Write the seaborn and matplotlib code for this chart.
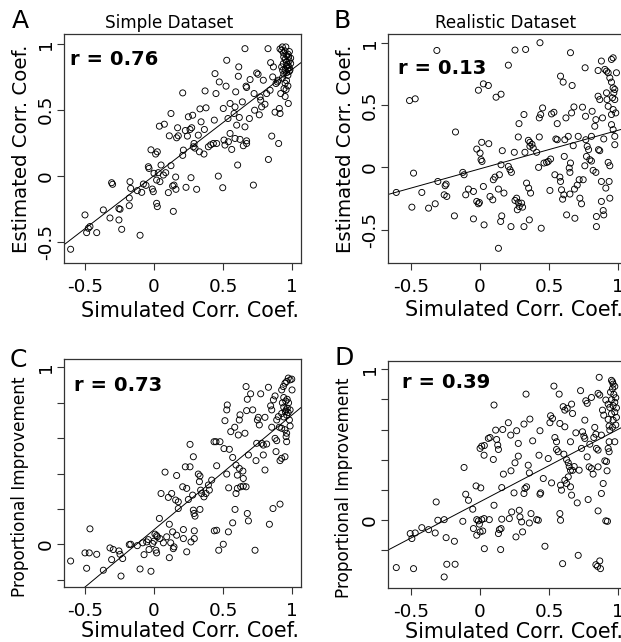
import matplotlib
matplotlib.use("Agg")
import matplotlib.pyplot as plt
import numpy as np
import pandas as pd
import seaborn as sns

# (simulated, estimated) pairs
simple_est = [
    (-0.604, -0.557), (-0.50, -0.297), (-0.488, -0.431), (-0.476, -0.398), (-0.464, -0.385),
    (-0.415, -0.431), (-0.367, -0.259), (-0.319, -0.32), (-0.307, -0.053), (-0.30, -0.065),
    (-0.254, -0.249), (-0.246, -0.254), (-0.254, -0.335), (-0.234, -0.406), (-0.179, -0.227),
    (-0.179, -0.169), (-0.174, -0.045), (-0.169, -0.096), (-0.121, -0.113), (-0.101, -0.451),
    (-0.089, -0.126), (-0.077, -0.063), (-0.058, -0.073), (-0.022, 0.196), (-0.012, -0.101),
    (-0.005, -0.121), (0.0, 0.018), (-0.041, 0.068), (-0.036, 0.055), (0.012, 0.164),
    (0.024, 0.181), (0.019, -0.209), (0.024, -0.234), (0.019, -0.033), (0.031, 0.023),
    (0.043, -0.045), (0.051, 0.081), (0.039, 0.375), (0.075, 0.39), (0.068, 0.005),
    (0.085, 0.023), (0.104, -0.128), (0.111, 0.302), (0.123, 0.471), (0.123, 0.076),
    (0.135, -0.078), (0.145, -0.071), (0.14, -0.27), (0.157, -0.01), (0.159, -0.103),
    (0.164, 0.287), (0.171, 0.363), (0.176, 0.302), (0.208, 0.627), (0.213, 0.194),
    (0.208, 0.154), (0.227, 0.342), (0.232, -0.088), (0.242, 0.30), (0.249, 0.446),
    (0.261, 0.35), (0.268, -0.015), (0.273, 0.363), (0.28, 0.458), (0.285, 0.219),
    (0.29, 0.244), (0.297, 0.209), (0.309, -0.103), (0.321, 0.307), (0.329, 0.181),
    (0.333, 0.506), (0.341, 0.408), (0.365, 0.35), (0.362, 0.164), (0.377, 0.514),
    (0.37, 0.642), (0.394, 0.219), (0.411, 0.234), (0.43, 0.244), (0.437, 0.421),
    (0.442, 0.773), (0.449, 0.622), (0.454, 0.244), (0.466, -0.003), (0.473, 0.71),
    (0.498, -0.091), (0.502, 0.509), (0.507, 0.27), (0.514, 0.232), (0.522, 0.678),
    (0.527, 0.874), (0.536, 0.433), (0.539, 0.257), (0.551, 0.32), (0.551, 0.547),
    (0.563, 0.199), (0.58, 0.471), (0.587, 0.521), (0.587, 0.282), (0.592, 0.635),
    (0.599, 0.383), (0.606, 0.081), (0.611, 0.753), (0.614, 0.824), (0.618, 0.441),
    (0.623, 0.275), (0.64, 0.559), (0.647, 0.227), (0.659, 0.37), (0.659, 0.962),
    (0.667, 0.678), (0.671, 0.668), (0.671, 0.264), (0.671, 0.244), (0.691, 0.433),
    (0.696, 0.728), (0.72, -0.071), (0.725, 0.622), (0.729, 0.496), (0.744, 0.778),
    (0.754, 0.768), (0.763, 0.461), (0.768, 0.597), (0.773, 0.572), (0.78, 0.521),
    (0.792, 0.723), (0.804, 0.541), (0.816, 0.622), (0.829, 0.123), (0.826, 0.962),
    (0.841, 0.647), (0.845, 0.856), (0.853, 0.30), (0.865, 0.824), (0.86, 0.748),
    (0.877, 0.481), (0.884, 0.698), (0.894, 0.71), (0.901, 0.723), (0.903, 0.244),
    (0.908, 0.509), (0.913, 0.471), (0.918, 0.622), (0.925, 0.824), (0.932, 0.798),
    (0.937, 0.849), (0.913, 0.96), (0.925, 0.95), (0.937, 0.93), (0.949, 0.945),
    (0.961, 0.91), (0.971, 0.92), (0.981, 0.94), (0.93, 0.975), (0.955, 0.975),
    (0.95, 0.88), (0.96, 0.86), (0.97, 0.84), (0.98, 0.82), (0.95, 0.80),
    (0.96, 0.78), (0.97, 0.81), (0.94, 0.77), (0.98, 0.79), (0.96, 0.72),
    (0.95, 0.70), (0.97, 0.68), (0.93, 0.74), (0.99, 0.85), (0.98, 0.87),
    (0.94, 0.90), (0.95, 0.60), (0.97, 0.76), (0.96, 0.83), (0.985, 0.80),
    (0.975, 0.90), (0.942, 0.66), (0.957, 0.652), (0.973, 0.547), (0.99, 0.89),
]

# panel B
real_est = [
    (-0.607, -0.201), (-0.511, 0.536), (-0.47, 0.55), (-0.494, -0.319), (-0.482, -0.046),
    (-0.422, -0.201), (-0.373, -0.327), (-0.325, -0.292), (-0.313, 0.938), (-0.306, -0.113),
    (-0.26, -0.22), (-0.241, -0.233), (-0.253, -0.147), (-0.246, -0.134), (-0.186, -0.389),
    (-0.178, 0.284), (-0.125, -0.04), (-0.116, -0.059), (-0.104, -0.22), (-0.084, -0.174),
    (-0.048, -0.193), (-0.048, -0.413), (-0.024, 0.147), (-0.024, -0.273), (-0.012, -0.292),
    (-0.005, -0.282), (-0.012, 0.619), (0.0, 0.115), (0.007, 0.062), (0.014, 0.048),
    (0.012, 0.201), (0.024, 0.67), (0.06, 0.657), (0.024, -0.153), (0.029, -0.461),
    (0.063, 0.19), (0.072, -0.233), (0.092, -0.26), (0.096, -0.099), (0.108, -0.078),
    (0.116, 0.563), (0.152, 0.587), (0.133, -0.174), (0.133, -0.649), (0.14, -0.059),
    (0.149, -0.434), (0.157, -0.389), (0.152, 0.021), (0.161, 0.134), (0.173, -0.206),
    (0.205, 0.82), (0.205, 0.008), (0.217, -0.019), (0.227, -0.04), (0.224, -0.475),
    (0.248, 0.121), (0.253, 0.941), (0.253, -0.265), (0.265, -0.247), (0.277, -0.282),
    (0.284, -0.314), (0.27, -0.34), (0.277, 0.244), (0.282, 0.351), (0.301, -0.287),
    (0.308, -0.319), (0.318, 0.424), (0.325, 0.121), (0.33, 0.946), (0.318, -0.475),
    (0.337, -0.126), (0.352, -0.166), (0.366, -0.206), (0.35, 0.217), (0.361, 0.201),
    (0.376, 0.185), (0.385, 0.155), (0.361, 0.169), (0.357, -0.421), (0.41, 0.121),
    (0.424, 0.0), (0.429, 0.244), (0.429, 0.397), (0.439, 0.424), (0.453, 0.477),
    (0.434, 1.0), (0.443, -0.488), (0.463, 0.035), (0.482, 0.04), (0.494, 0.048),
    (0.511, 0.067), (0.506, -0.185), (0.518, 0.429), (0.535, 0.442), (0.542, -0.059),
    (0.549, 0.228), (0.559, 0.222), (0.559, 0.351), (0.578, -0.078), (0.583, -0.113),
    (0.59, -0.18), (0.598, -0.255), (0.607, -0.22), (0.583, 0.732), (0.602, 0.684),
    (0.61, 0.088), (0.614, 0.222), (0.622, 0.397), (0.627, -0.381), (0.639, 0.249),
    (0.646, -0.005), (0.651, -0.04), (0.655, 0.035), (0.651, -0.214), (0.655, 0.92),
    (0.663, 0.437), (0.68, 0.485), (0.667, 0.657), (0.675, 0.174), (0.684, -0.174),
    (0.704, -0.142), (0.718, -0.099), (0.687, -0.408), (0.711, 0.249), (0.723, -0.247),
    (0.735, -0.292), (0.742, 0.483), (0.747, -0.099), (0.761, 0.799), (0.764, 0.41),
    (0.766, 0.222), (0.776, 0.169), (0.786, 0.142), (0.771, 0.088), (0.759, 0.013),
    (0.795, 0.062), (0.807, 0.051), (0.807, 0.249), (0.812, 0.45), (0.819, -0.024),
    (0.839, -0.04), (0.831, 0.33), (0.839, 0.383), (0.843, -0.394), (0.843, -0.475),
    (0.858, 0.142), (0.867, 0.134), (0.855, 0.777), (0.855, 0.571), (0.867, 0.544),
    (0.879, 0.853), (0.879, -0.113), (0.879, -0.273), (0.892, -0.346), (0.896, -0.381),
    (0.887, 0.397), (0.896, 0.228), (0.904, 0.786), (0.916, 0.772), (0.928, 0.759),
    (0.911, -0.166), (0.916, 0.598), (0.92, 0.544), (0.928, 0.49), (0.928, 0.04),
    (0.94, 0.013), (0.935, -0.113), (0.94, -0.247), (0.952, 0.866), (0.964, 0.879),
    (0.94, 0.718), (0.952, 0.684), (0.964, 0.638), (0.976, 0.625), (0.952, 0.424),
    (0.964, 0.464), (0.952, 0.343), (0.964, 0.303), (0.976, 0.249), (0.976, 0.182),
    (0.959, 0.558), (0.976, 0.544), (0.969, 0.598), (0.983, 0.437), (0.988, 0.759),
]

# panel C
simple_imp = [
    (-0.604, -0.095), (-0.50, -0.049), (-0.469, -0.049), (-0.488, -0.136), (-0.464, 0.087),
    (-0.415, -0.057), (-0.367, -0.147), (-0.319, -0.021), (-0.307, -0.087), (-0.295, -0.03),
    (-0.254, -0.038), (-0.246, -0.057), (-0.227, -0.081), (-0.239, -0.18), (-0.179, -0.002),
    (-0.169, 0.0), (-0.121, -0.008), (-0.101, -0.14), (-0.082, 0.008), (-0.072, -0.059),
    (-0.053, 0.013), (-0.041, 0.026), (-0.036, -0.03), (-0.022, -0.153), (-0.01, 0.004),
    (0.0, 0.017), (0.007, 0.057), (0.019, 0.049), (0.024, 0.042), (0.014, -0.034),
    (0.019, -0.049), (0.039, 0.146), (0.043, 0.032), (0.051, 0.287), (0.068, 0.008),
    (0.08, 0.408), (0.092, 0.042), (0.104, 0.265), (0.111, 0.113), (0.111, -0.076),
    (0.121, 0.008), (0.128, 0.287), (0.135, 0.07), (0.14, -0.025), (0.145, -0.015),
    (0.157, 0.25), (0.164, 0.051), (0.164, 0.389), (0.176, 0.24), (0.176, 0.202),
    (0.208, 0.325), (0.213, 0.083), (0.213, 0.032), (0.227, 0.438), (0.237, 0.316),
    (0.237, -0.043), (0.249, 0.253), (0.261, 0.565), (0.261, 0.438), (0.268, 0.013),
    (0.28, 0.278), (0.285, 0.495), (0.285, 0.193), (0.29, 0.174), (0.297, 0.159),
    (0.292, 0.076), (0.292, 0.032), (0.321, 0.397), (0.329, 0.354), (0.333, 0.386),
    (0.338, 0.306), (0.333, 0.197), (0.345, 0.287), (0.362, 0.268), (0.377, 0.287),
    (0.394, 0.335), (0.401, 0.306), (0.418, 0.363), (0.435, 0.58), (0.449, 0.58),
    (0.437, 0.076), (0.454, 0.079), (0.454, 0.444), (0.469, -0.034), (0.478, 0.58),
    (0.502, 0.0), (0.507, 0.541), (0.514, 0.699), (0.527, 0.76), (0.531, 0.788),
    (0.527, 0.397), (0.539, 0.07), (0.541, 0.319), (0.546, 0.537), (0.556, 0.637),
    (0.57, 0.491), (0.57, 0.121), (0.585, 0.662), (0.587, 0.197), (0.594, 0.287),
    (0.604, 0.316), (0.594, 0.448), (0.604, 0.391), (0.611, 0.618), (0.618, 0.703),
    (0.623, 0.732), (0.618, 0.429), (0.628, 0.325), (0.647, 0.329), (0.667, 0.325),
    (0.644, 0.414), (0.647, 0.372), (0.659, 0.628), (0.667, 0.892), (0.671, 0.756),
    (0.676, 0.82), (0.676, 0.174), (0.684, 0.505), (0.684, 0.132), (0.70, 0.851),
    (0.715, 0.76), (0.732, -0.034), (0.739, 0.473), (0.744, 0.571), (0.749, 0.703),
    (0.756, 0.718), (0.763, 0.675), (0.773, 0.851), (0.78, 0.571), (0.792, 0.561),
    (0.792, 0.505), (0.804, 0.718), (0.804, 0.42), (0.816, 0.567), (0.829, 0.888),
    (0.836, 0.113), (0.845, 0.783), (0.853, 0.76), (0.853, 0.662), (0.862, 0.202),
    (0.865, 0.817), (0.877, 0.839), (0.877, 0.599), (0.889, 0.586), (0.884, 0.524),
    (0.889, 0.703), (0.901, 0.722), (0.913, 0.227), (0.913, 0.473), (0.925, 0.486),
    (0.908, 0.662), (0.925, 0.656), (0.925, 0.873), (0.937, 0.892), (0.949, 0.911),
    (0.961, 0.921), (0.973, 0.94), (0.986, 0.93), (0.998, 0.934), (0.93, 0.80),
    (0.94, 0.83), (0.955, 0.81), (0.965, 0.82), (0.975, 0.80), (0.925, 0.74),
    (0.94, 0.72), (0.952, 0.75), (0.962, 0.73), (0.972, 0.745), (0.986, 0.76),
    (0.94, 0.775), (0.957, 0.76), (0.966, 0.77), (0.949, 0.648), (0.961, 0.628),
    (0.957, 0.609), (0.961, 0.58), (0.949, 0.495), (0.986, 0.669), (0.981, 0.703),
    (1.0, 0.873),
]

# panel D
real_imp = [
    (-0.607, -0.313), (-0.506, -0.088), (-0.494, -0.121), (-0.47, -0.084), (-0.482, -0.32),
    (-0.422, -0.049), (-0.373, -0.062), (-0.325, -0.084), (-0.318, 0.121), (-0.306, 0.0),
    (-0.26, 0.004), (-0.246, -0.115), (-0.241, -0.291), (-0.181, -0.291), (-0.26, -0.375),
    (-0.186, -0.139), (-0.125, -0.007), (-0.116, 0.349), (-0.104, 0.172), (-0.084, 0.132),
    (-0.053, 0.073), (-0.048, -0.055), (-0.029, 0.227), (0.005, 0.214), (-0.024, 0.004),
    (-0.012, -0.004), (-0.005, -0.026), (0.012, 0.004), (0.029, 0.011), (-0.024, -0.099),
    (0.0, -0.077), (0.019, -0.071), (0.0, 0.475), (0.012, 0.49), (0.031, 0.494),
    (0.06, 0.541), (0.072, 0.547), (0.029, 0.43), (0.031, -0.188), (0.067, 0.004),
    (0.096, 0.402), (0.101, 0.099), (0.101, 0.762), (0.113, 0.596), (0.12, 0.534),
    (0.128, 0.497), (0.133, 0.468), (0.133, -0.088), (0.14, -0.062), (0.152, -0.055),
    (0.149, -0.194), (0.157, 0.007), (0.157, 0.216), (0.164, 0.60), (0.169, 0.305),
    (0.205, 0.645), (0.212, 0.011), (0.222, 0.563), (0.224, 0.327), (0.229, 0.055),
    (0.246, 0.181), (0.253, 0.38), (0.26, -0.11), (0.265, 0.592), (0.277, 0.508),
    (0.277, 0.424), (0.284, 0.066), (0.289, 0.022), (0.301, -0.011), (0.308, -0.077),
    (0.318, 0.636), (0.318, 0.177), (0.325, 0.21), (0.333, 0.834), (0.337, 0.221),
    (0.349, 0.364), (0.357, 0.313), (0.357, -0.018), (0.361, 0.669), (0.369, 0.044),
    (0.381, 0.525), (0.41, 0.004), (0.422, 0.0), (0.427, 0.43), (0.434, 0.592),
    (0.434, 0.172), (0.439, 0.181), (0.458, 0.276), (0.47, -0.172), (0.494, 0.408),
    (0.506, 0.645), (0.511, 0.691), (0.525, 0.673), (0.518, 0.247), (0.535, 0.887),
    (0.542, 0.547), (0.554, 0.519), (0.554, 0.468), (0.566, 0.453), (0.573, 0.834),
    (0.578, 0.64), (0.578, 0.044), (0.583, 0.0), (0.583, 0.232), (0.59, 0.199),
    (0.598, -0.287), (0.602, 0.751), (0.614, 0.728), (0.607, 0.437), (0.614, 0.265),
    (0.627, 0.243), (0.639, 0.287), (0.614, 0.618), (0.627, 0.40), (0.639, 0.38),
    (0.646, 0.355), (0.655, 0.33), (0.67, 0.33), (0.682, 0.355), (0.631, 0.74),
    (0.655, 0.221), (0.663, 0.166), (0.663, 0.768), (0.67, 0.706), (0.655, 0.519),
    (0.694, 0.578), (0.704, 0.115), (0.711, -0.232), (0.718, 0.331), (0.728, 0.857),
    (0.735, 0.475), (0.742, 0.585), (0.752, 0.556), (0.759, 0.541), (0.759, 0.662),
    (0.766, 0.79), (0.776, 0.773), (0.776, 0.419), (0.783, 0.137), (0.79, 0.353),
    (0.807, 0.342), (0.819, 0.305), (0.795, 0.503), (0.807, 0.812), (0.824, 0.547),
    (0.839, 0.569), (0.831, 0.614), (0.839, -0.294), (0.851, -0.305), (0.867, -0.269),
    (0.872, -0.32), (0.843, 0.475), (0.855, 0.353), (0.855, 0.464), (0.855, 0.839),
    (0.867, 0.828), (0.863, 0.945), (0.855, 0.062), (0.879, 0.177), (0.879, 0.563),
    (0.887, 0.728), (0.896, 0.695), (0.892, 0.243), (0.904, 0.393), (0.92, 0.327),
    (0.916, 0.388), (0.911, -0.004), (0.923, -0.007), (0.911, 0.795), (0.928, 0.768),
    (0.94, 0.746), (0.928, 0.667), (0.935, 0.623), (0.94, 0.596), (0.928, 0.475),
    (0.935, 0.453), (0.935, 0.519), (0.952, 0.925), (0.96, 0.915), (0.964, 0.90),
    (0.976, 0.885), (0.959, 0.87), (0.945, 0.847), (0.969, 0.832), (0.983, 0.81),
    (0.952, 0.797), (0.976, 0.78), (0.964, 0.758), (0.988, 0.743), (0.976, 0.715),
    (0.952, 0.704), (0.988, 0.68), (0.964, 0.662), (0.983, 0.63), (0.959, 0.615),
    (0.976, 0.519),
]

r_labels = ["r = 0.76", "r = 0.13", "r = 0.73", "r = 0.39"]
panel_letters = ["A", "B", "C", "D"]
col_titles = ["Simple Dataset", "Realistic Dataset"]
x_ticks = [-0.5, 0, 0.5, 1]
x_ticklabels = ["-0.5", "0", "0.5", "1"]
est_ticks = [-0.5, 0, 0.5, 1]
est_ticklabels = ["-0.5", "0", "0.5", "1"]
imp_ticks = [-0.2, 0, 0.2, 0.4, 0.6, 0.8, 1]
imp_ticklabels = ["", "0", "", "", "", "", "1"]

sns.set_theme(style="ticks")
plt.rcParams["font.family"] = ["DejaVu Sans"]
plt.rcParams["text.color"] = "black"
plt.rcParams["axes.labelcolor"] = "black"
plt.rcParams["xtick.color"] = "black"
plt.rcParams["ytick.color"] = "black"

W, H = 621, 642
fig = plt.figure(figsize=(W / 100, H / 100), dpi=100)

def px_rect(left, top, right, bottom):
    return [left / W, 1 - bottom / H, (right - left) / W, (bottom - top) / H]

panels = [
    dict(pts=simple_est, rect=px_rect(64, 34, 301, 263), xlim=(-0.652, 1.065), ylim=(-0.661, 1.073),
         yt=est_ticks, ytl=est_ticklabels, ylab="Estimated Corr. Coef.", ylsize=14.2,
         ylc=(-0.141, 0.5), xlc=(0.53, -0.165), rpos=(70, 65), let=(12, 28)),
    dict(pts=real_est, rect=px_rect(388, 34, 625, 263), xlim=(-0.667, 1.05), ylim=(-0.767, 1.07),
         yt=est_ticks, ytl=est_ticklabels, ylab="Estimated Corr. Coef.", ylsize=14.2,
         ylc=(-0.141, 0.5), xlc=(0.53, -0.162), rpos=(398, 74), let=(333, 28)),
    dict(pts=simple_imp, rect=px_rect(64, 359, 301, 587), xlim=(-0.652, 1.065), ylim=(-0.242, 1.048),
         yt=imp_ticks, ytl=imp_ticklabels, ylab="Proportional Improvement", ylsize=12.2,
         ylc=(-0.149, 0.44), xlc=(0.53, -0.148), rpos=(74, 391), let=(10, 367)),
    dict(pts=real_imp, rect=px_rect(388, 361, 625, 588), xlim=(-0.667, 1.05), ylim=(-0.448, 1.053),
         yt=imp_ticks, ytl=imp_ticklabels, ylab="Proportional Improvement", ylsize=12.2,
         ylc=(-0.149, 0.44), xlc=(0.53, -0.15), rpos=(402, 388), let=(335, 365)),
]

for i, p in enumerate(panels):
    ax = fig.add_axes(p["rect"])
    df = pd.DataFrame(p["pts"], columns=["sim", "val"])
    ax.set_xlim(p["xlim"])
    ax.set_ylim(p["ylim"])
    sns.regplot(data=df, x="sim", y="val", ax=ax, scatter=False, ci=None, truncate=False,
                line_kws=dict(color="black", lw=0.7))
    sns.scatterplot(data=df, x="sim", y="val", ax=ax, s=19, facecolors="none",
                    edgecolor="black", linewidth=0.65)
    ax.set_xlim(p["xlim"])
    ax.set_ylim(p["ylim"])
    for sp in ax.spines.values():
        sp.set_color("#333333")
        sp.set_linewidth(0.9)
    ax.set_xticks(x_ticks, x_ticklabels)
    ax.set_yticks(p["yt"], p["ytl"], rotation=90, va="center")
    ax.tick_params(axis="both", direction="out", length=5, width=0.8, color="#333333",
                   labelsize=13.3, labelcolor="black")
    ax.tick_params(axis="x", pad=6)
    ax.tick_params(axis="y", pad=1.5)
    ax.set_xlabel("Simulated Corr. Coef.", fontsize=14.9, color="black")
    ax.set_ylabel(p["ylab"], fontsize=p["ylsize"], color="black")
    ax.xaxis.set_label_coords(*p["xlc"])
    ax.yaxis.set_label_coords(*p["ylc"])
    fig.text(p["rpos"][0] / W, 1 - p["rpos"][1] / H, r_labels[i], fontsize=14.1,
             fontweight="bold", va="baseline", ha="left", color="black")
    fig.text(p["let"][0] / W, 1 - p["let"][1] / H, panel_letters[i], fontsize=18,
             va="baseline", ha="left", color="black")

fig.text(169.5 / W, 1 - 28 / H, col_titles[0], fontsize=12.1, ha="center", va="baseline")
fig.text(506 / W, 1 - 28 / H, col_titles[1], fontsize=12.1, ha="center", va="baseline")

fig.savefig("out.png", dpi=100, facecolor="white")
